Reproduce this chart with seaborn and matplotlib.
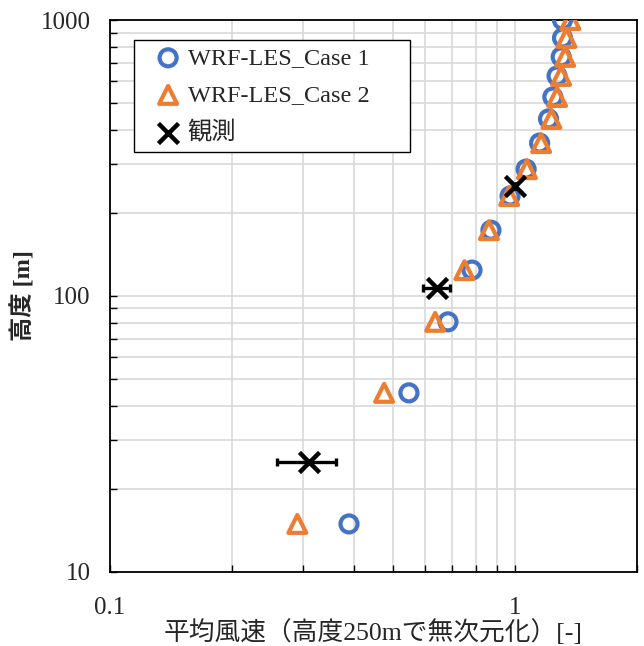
import numpy as np
import pandas as pd
import matplotlib
matplotlib.use("Agg")
import matplotlib.pyplot as plt
from matplotlib.ticker import LogLocator, FixedLocator, FixedFormatter, NullFormatter
import seaborn as sns

# Data
height_les = [1000, 861, 735, 627, 526, 438, 358, 288, 230, 173, 124, 80.5, 44.5, 14.9]
case1_ws = [1.31, 1.31, 1.30, 1.27, 1.24, 1.21, 1.15, 1.065, 0.972, 0.872, 0.783, 0.683, 0.547, 0.389]
case2_ws = [1.37, 1.34, 1.33, 1.30, 1.27, 1.23, 1.16, 1.07, 0.967, 0.862, 0.75, 0.635, 0.475, 0.29]
obs_height = [250, 107, 25]
obs_ws = [1.0, 0.641, 0.31]
obs_err = [0.0, 0.05, 0.052]

labels = ["WRF-LES_Case 1", "WRF-LES_Case 2", "観測"]
blue = "#4472C4"
orange = "#ED7D31"

sns.set_style("white")
plt.rcParams['font.family'] = ['Liberation Serif', 'Noto Sans CJK JP']

fig = plt.figure(figsize=(6.44, 6.46), dpi=100)
ax = fig.add_axes([0.171, 0.115, 0.818, 0.854])

df1 = pd.DataFrame({"ws": case1_ws, "z": height_les})
df2 = pd.DataFrame({"ws": case2_ws, "z": height_les})
dfo = pd.DataFrame({"ws": obs_ws, "z": obs_height})

sns.scatterplot(data=df1, x="ws", y="z", marker="o", s=150, color=blue,
                facecolor="none", edgecolor=blue, linewidth=3, label=labels[0],
                ax=ax, zorder=3)
sns.scatterplot(data=df2, x="ws", y="z", marker="^", s=165, color=orange,
                facecolor="none", edgecolor=orange, linewidth=3, label=labels[1],
                ax=ax, zorder=4)
ax.errorbar(obs_ws, obs_height, xerr=obs_err, fmt="none", ecolor="black",
            elinewidth=2.4, capsize=3, capthick=2.4, zorder=5)
sns.scatterplot(data=dfo, x="ws", y="z", marker="x", s=210, color="black",
                linewidth=3.2, label=labels[2], ax=ax, zorder=6)

ax.set_xscale("log")
ax.set_yscale("log")
ax.set_xlim(0.1, 2)
ax.set_ylim(10, 1000)

ax.xaxis.set_major_locator(FixedLocator([0.1, 1]))
ax.xaxis.set_major_formatter(FixedFormatter(["0.1", "1"]))
ax.xaxis.set_minor_locator(LogLocator(base=10, subs=np.arange(2, 10)))
ax.xaxis.set_minor_formatter(NullFormatter())
ax.yaxis.set_major_locator(FixedLocator([10, 100, 1000]))
ax.yaxis.set_major_formatter(FixedFormatter(["10", "100", "1000"]))
ax.yaxis.set_minor_locator(LogLocator(base=10, subs=np.arange(2, 10)))
ax.yaxis.set_minor_formatter(NullFormatter())

ax.grid(True, which="both", color="#D9D9D9", linewidth=1.2)
ax.set_axisbelow(True)
ax.tick_params(which="both", direction="in", length=5, width=1, color="black",
               labelsize=18, bottom=True, left=True)
ax.tick_params(axis="x", pad=18)
ax.tick_params(axis="y", pad=14)
for sp in ax.spines.values():
    sp.set_color("black")
    sp.set_linewidth(1.3)

ax.set_xlabel("平均風速（高度250mで無次元化）[-]", fontsize=18.5, labelpad=0)
ax.set_ylabel("高度 [m]", fontsize=17.5, labelpad=4, fontweight="bold")

leg = ax.legend(loc="upper left", bbox_to_anchor=(0.0455, 0.5, 0.524, 0.464),
                mode="expand", borderaxespad=0,
                fontsize=17.5, frameon=True, fancybox=False, edgecolor="black",
                framealpha=1, handletextpad=-0.3, labelspacing=0.62,
                borderpad=0.3, handlelength=2.2)
leg.get_frame().set_linewidth(1.0)

fig.savefig("out.png", dpi=100)
